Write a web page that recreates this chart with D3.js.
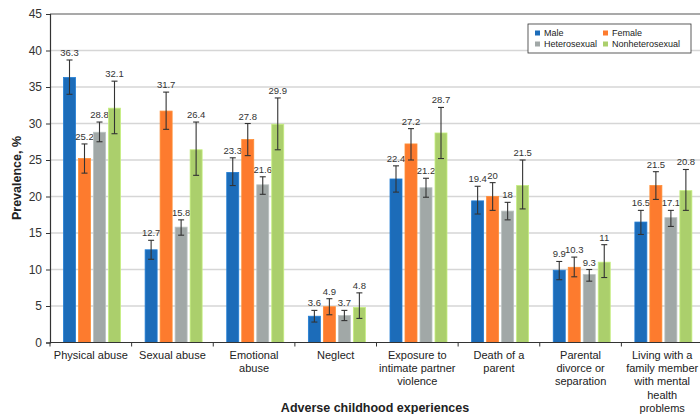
<!DOCTYPE html>
<html>
<head>
<meta charset="utf-8">
<script src="https://cdn.jsdelivr.net/npm/d3@7"></script>
<style>
  body { margin: 0; background: #fff; }
  svg { font-family: "Liberation Sans", Arial, Helvetica, sans-serif; }
</style>
</head>
<body>
<script>
// categories (multi-line labels) and series
var categories = [
    ["Physical abuse"],
    ["Sexual abuse"],
    ["Emotional", "abuse"],
    ["Neglect"],
    ["Exposure to", "intimate partner", "violence"],
    ["Death of a", "parent"],
    ["Parental", "divorce or", "separation"],
    ["Living with a", "family member", "with mental", "health", "problems"]
];
var seriesNames = ["Male", "Female", "Heterosexual", "Nonheterosexual"];
var seriesColors = ["#1c6cb9", "#fd7b2e", "#a1a8a7", "#abcf6c"];

var male = [36.3, 12.7, 23.3, 3.6, 22.4, 19.4, 9.9, 16.5];
var female = [25.2, 31.7, 27.8, 4.9, 27.2, 20, 10.3, 21.5];
var hetero = [28.8, 15.8, 21.6, 3.7, 21.2, 18, 9.3, 17.1];
var nonhetero = [32.1, 26.4, 29.9, 4.8, 28.7, 21.5, 11, 20.8];

// 95% CI bounds
var maleLo = [34.0, 11.4, 21.5, 2.8, 20.6, 17.6, 8.6, 14.8];
var maleHi = [38.7, 14.0, 25.3, 4.4, 24.2, 21.4, 11.1, 18.1];
var femaleLo = [23.2, 29.2, 25.6, 3.8, 25.0, 18.1, 9.0, 19.6];
var femaleHi = [27.2, 34.3, 30.0, 6.0, 29.3, 21.9, 11.7, 23.4];
var heteroLo = [27.5, 14.7, 20.3, 3.0, 19.9, 16.8, 8.4, 15.9];
var heteroHi = [30.2, 16.8, 22.7, 4.4, 22.5, 19.2, 10.0, 18.1];
var nonheteroLo = [28.6, 22.9, 26.4, 3.3, 25.2, 18.3, 8.9, 18.1];
var nonheteroHi = [35.8, 30.2, 33.5, 6.8, 32.2, 25.0, 13.4, 23.7];

var yTicks = [0, 5, 10, 15, 20, 25, 30, 35, 40, 45];

var series = [
    {name: seriesNames[0], values: male, lo: maleLo, hi: maleHi},
    {name: seriesNames[1], values: female, lo: femaleLo, hi: femaleHi},
    {name: seriesNames[2], values: hetero, lo: heteroLo, hi: heteroHi},
    {name: seriesNames[3], values: nonhetero, lo: nonheteroLo, hi: nonheteroHi}
];

var w = 700, h = 414;
var svg = d3.select("body").append("svg")
    .attr("width", w)
    .attr("height", h);

var x0 = d3.scaleBand()
    .domain(d3.range(categories.length))
    .range([50, 703]);
var x1 = d3.scaleBand()
    .domain(seriesNames)
    .range([12, 72])
    .paddingInner(0.2)
    .paddingOuter(0.1);
var y = d3.scaleLinear()
    .domain([0, 45])
    .range([342.5, 14]);

// gridlines
svg.append("g").selectAll("line")
    .data(yTicks.filter(function(d){ return d > 0 && d < 45; }))
    .enter().append("line")
    .attr("x1", 50).attr("x2", w)
    .attr("y1", function(d){ return y(d); })
    .attr("y2", function(d){ return y(d); })
    .style("stroke", "#d6d6d6")
    .style("stroke-width", 1.3);

// top border
svg.append("line")
    .attr("x1", 50).attr("x2", w)
    .attr("y1", y(45)).attr("y2", y(45))
    .style("stroke", "#555")
    .style("stroke-width", 1.2);

// y axis
var yAxis = svg.append("g")
    .attr("transform", "translate(50,0)")
    .call(d3.axisLeft(y).tickValues(yTicks).tickSize(4).tickPadding(4));
yAxis.select(".domain").style("stroke", "#333").style("stroke-width", 1.2);
yAxis.selectAll(".tick line").style("stroke", "#333");
yAxis.selectAll("text")
    .style("font-size", "12px")
    .style("fill", "#333");

// bars
var groups = svg.selectAll(".group")
    .data(categories)
    .enter().append("g")
    .attr("class", "group")
    .attr("transform", function(d, i){ return "translate(" + x0(i) + ",0)"; });

series.forEach(function(s, si){
    groups.append("rect")
        .attr("x", x1(s.name))
        .attr("width", x1.bandwidth())
        .attr("y", function(d, i){ return y(s.values[i]); })
        .attr("height", function(d, i){ return y(0) - y(s.values[i]); })
        .style("fill", seriesColors[si])
        .style("stroke", d3.color(seriesColors[si]).brighter(0.4))
        .style("stroke-width", 0.8);

    var cx = x1(s.name) + x1.bandwidth() / 2;
    var eb = groups.append("g").attr("class", "err");
    eb.append("line")
        .attr("x1", cx).attr("x2", cx)
        .attr("y1", function(d, i){ return y(s.lo[i]); })
        .attr("y2", function(d, i){ return y(s.hi[i]); });
    eb.append("line")
        .attr("x1", cx - 3).attr("x2", cx + 3)
        .attr("y1", function(d, i){ return y(s.hi[i]); })
        .attr("y2", function(d, i){ return y(s.hi[i]); });
    eb.append("line")
        .attr("x1", cx - 3).attr("x2", cx + 3)
        .attr("y1", function(d, i){ return y(s.lo[i]); })
        .attr("y2", function(d, i){ return y(s.lo[i]); });
    eb.selectAll("line")
        .style("stroke", "#333")
        .style("stroke-width", 1.1);

    groups.append("text")
        .attr("x", cx)
        .attr("y", function(d, i){ return y(s.hi[i]) - 4; })
        .attr("text-anchor", "middle")
        .style("font-size", "9.5px")
        .style("fill", "#333")
        .text(function(d, i){ return s.values[i]; });
});

// x axis
svg.append("line")
    .attr("x1", 50).attr("x2", w)
    .attr("y1", y(0)).attr("y2", y(0))
    .style("stroke", "#333")
    .style("stroke-width", 1.2);
svg.append("g").selectAll("line")
    .data(d3.range(categories.length + 1))
    .enter().append("line")
    .attr("x1", function(d){ return 50 + d * x0.step(); })
    .attr("x2", function(d){ return 50 + d * x0.step(); })
    .attr("y1", y(0)).attr("y2", y(0) + 4)
    .style("stroke", "#333");

var xLabels = svg.selectAll(".xlab")
    .data(categories)
    .enter().append("text")
    .attr("class", "xlab")
    .attr("text-anchor", "middle")
    .attr("y", 359)
    .style("font-size", "11px")
    .style("fill", "#222");
xLabels.selectAll("tspan")
    .data(function(d, i){ return d.map(function(t){ return {t: t, i: i}; }); })
    .enter().append("tspan")
    .attr("x", function(d){ return x0(d.i) + x0.bandwidth() / 2; })
    .attr("dy", function(d, j){ return j === 0 ? 0 : 13.2; })
    .text(function(d){ return d.t; });

// axis titles
svg.append("text")
    .attr("x", 375)
    .attr("y", 412)
    .attr("text-anchor", "middle")
    .style("font-size", "12.5px")
    .style("font-weight", "bold")
    .style("fill", "#222")
    .text("Adverse childhood experiences");
svg.append("text")
    .attr("transform", "translate(21,178) rotate(-90)")
    .attr("text-anchor", "middle")
    .style("font-size", "12.5px")
    .style("font-weight", "bold")
    .style("fill", "#222")
    .text("Prevalence, %");

// legend
var legend = svg.append("g").attr("transform", "translate(528,24)");
legend.append("rect")
    .attr("width", 163)
    .attr("height", 29)
    .style("fill", "#fff")
    .style("stroke", "#333")
    .style("stroke-width", 0.8);
var items = legend.selectAll(".item")
    .data(seriesNames)
    .enter().append("g")
    .attr("class", "item")
    .attr("transform", function(d, i){
        return "translate(" + (i % 2 === 0 ? 7 : 75) + "," + (i < 2 ? 9 : 20) + ")";
    });
items.append("rect")
    .attr("width", 5).attr("height", 5)
    .attr("y", -2.5)
    .style("fill", function(d, i){ return seriesColors[i]; });
items.append("text")
    .attr("x", 9)
    .attr("y", 3)
    .style("font-size", "9px")
    .style("fill", "#222")
    .text(function(d){ return d; });
</script>
</body>
</html>
